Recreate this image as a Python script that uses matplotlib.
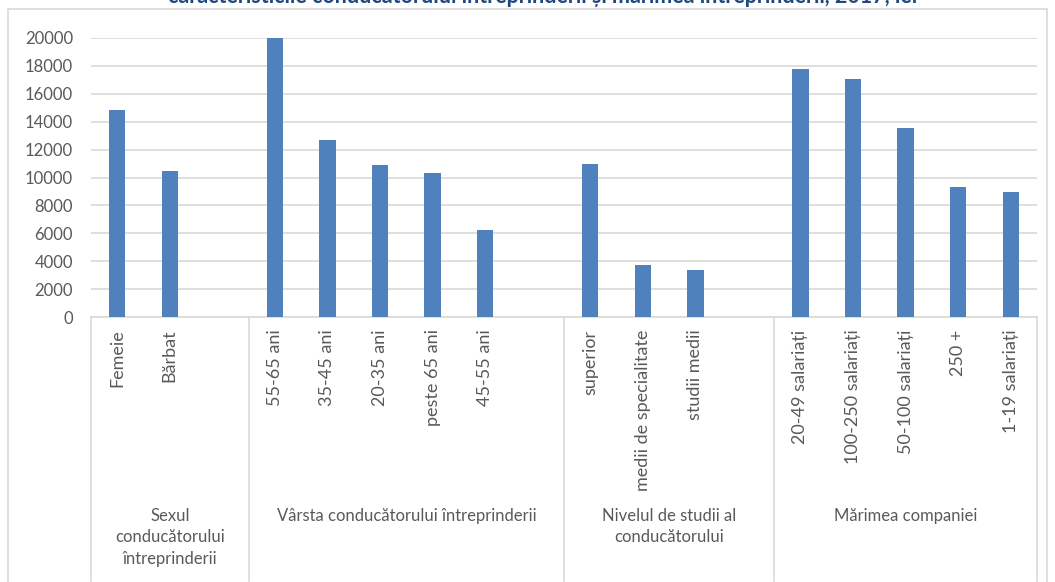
import matplotlib
matplotlib.use('Agg')
import matplotlib.pyplot as plt
import matplotlib.transforms as mtransforms
from matplotlib.patches import Rectangle

plt.rcParams['font.family'] = ['Lato', 'DejaVu Sans']

# data (lei)
groups = ['Sexul\nconducătorului\nîntreprinderii',
          'Vârsta conducătorului întreprinderii',
          'Nivelul de studii al\nconducătorului',
          'Mărimea companiei']
sex_labels = ['Femeie', 'Bărbat']
sex_values = [14850, 10450]
age_labels = ['55-65 ani', '35-45 ani', '20-35 ani', 'peste 65 ani', '45-55 ani']
age_values = [20000, 12700, 10900, 10350, 6250]
edu_labels = ['superior', 'medii de specialitate', 'studii medii']
edu_values = [10950, 3750, 3400]
size_labels = ['20-49 salariați', '100-250 salariați', '50-100 salariați', '250 +', '1-19 salariați']
size_values = [17800, 17050, 13550, 9350, 8950]
title = 'caracteristicile conducătorului întreprinderii și mărimea întreprinderii, 2017, lei'

W, H = 1055, 582
fig = plt.figure(figsize=(W / 100, H / 100), dpi=100)
ax = fig.add_axes([91 / W, 1 - 317 / H, (1037 - 91) / W, 279 / H])

txt = '#595959'
grid = '#D9D9D9'
bar_c = '#4F81BD'
fs = 12

# build slot list, Excel leaves one empty slot at the end of each group (but the last)
labels, values, spans = [], [], []
blocks = [(sex_labels, sex_values), (age_labels, age_values),
          (edu_labels, edu_values), (size_labels, size_values)]
for k, (lab, val) in enumerate(blocks):
    start = len(labels)
    labels += lab
    values += val
    if k < len(blocks) - 1:
        labels.append('')
        values.append(None)
    spans.append((start, len(labels)))

xs = [i for i, v in enumerate(values) if v is not None]
ys = [v for v in values if v is not None]
ax.bar(xs, ys, width=0.31, color=bar_c, zorder=3)

ax.set_xlim(-0.5, len(labels) - 0.5)
ax.set_ylim(0, 20000)
ax.set_yticks(range(0, 20001, 2000))
ax.tick_params(axis='y', length=0, pad=13, labelsize=fs, labelcolor=txt)
ax.set_xticks(range(len(labels)))
ax.set_xticklabels(labels, rotation=90, fontsize=13, color=txt, va='top')
ax.tick_params(axis='x', length=0, pad=9)
ax.grid(axis='y', color=grid, lw=1.2, zorder=0)
for s in ['top', 'right', 'left']:
    ax.spines[s].set_visible(False)
ax.spines['bottom'].set_color(grid)
ax.spines['bottom'].set_linewidth(1.2)

# group separators and group labels
trans = mtransforms.blended_transform_factory(ax.transData, ax.transAxes)
y_bot = (317 - 581) / 279
edges = [-0.5] + [e - 0.5 for _, e in spans]
for e in edges:
    ax.plot([e, e], [0, y_bot], transform=trans, color=grid, lw=1.2, clip_on=False)
for (s, e), g in zip(spans, groups):
    ax.text((s + e - 1) / 2, (317 - 508) / 279, g, transform=trans, ha='center', va='top',
            fontsize=fs, color=txt, linespacing=1.42)

# chart area border
fig.patches.append(Rectangle((8 / W, -0.01), (1047 - 8) / W, 1 - 9 / H + 0.01,
                             transform=fig.transFigure, fill=False, ec=grid, lw=1.2))

fig.text(543 / W, 1 - 3 / H, title, ha='center', va='baseline', fontsize=15.5,
         fontweight='bold', color='#1F497D')

fig.savefig('out.png', dpi=100)
